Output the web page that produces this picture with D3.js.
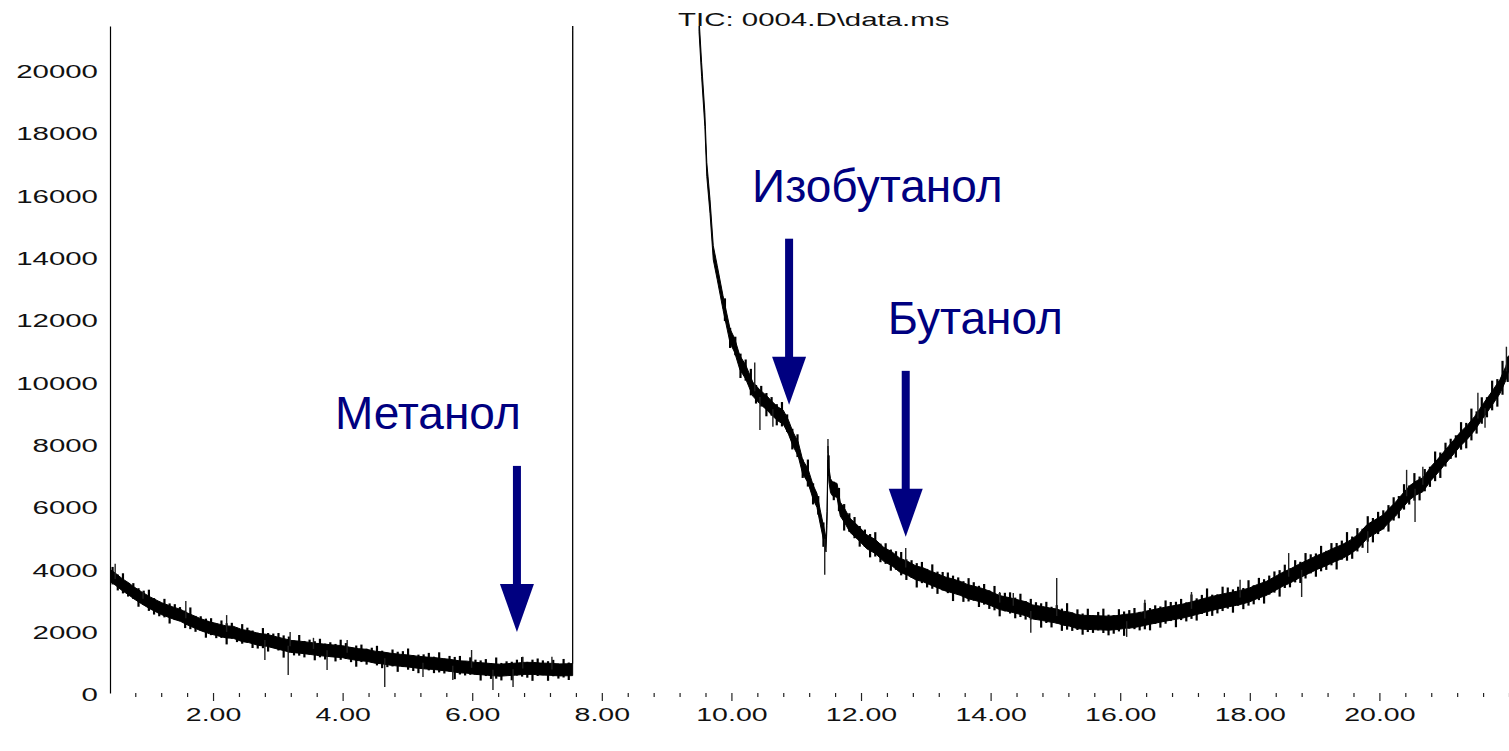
<!DOCTYPE html>
<html>
<head>
<meta charset="utf-8">
<script src="https://cdn.jsdelivr.net/npm/d3@7"></script>
<style>
  body { margin: 0; background: #fff; }
  svg { display: block; }
  .lbl { font-family: "Liberation Sans", Arial, sans-serif; font-size: 19px; fill: #111; }
  .anno { font-family: "Liberation Sans", Arial, sans-serif; font-size: 46px; fill: #000080; }
</style>
</head>
<body>
<div id="chart"></div>
<script>
// tick labels
var yTicks      = [0, 2000, 4000, 6000, 8000, 10000, 12000, 14000, 16000, 18000, 20000];
var xMajorTicks = [2, 4, 6, 8, 10, 12, 14, 16, 18, 20];
var titleText   = "TIC: 0004.D\\data.ms";

// first part of the trace (before the solvent delay), middle of the noisy signal
var tic1Time  = [0.41, 0.50, 0.60, 0.70, 0.77, 0.90, 1.03, 1.20, 1.38, 1.50, 1.60, 1.80, 1.95, 2.05, 2.20, 2.31, 2.45, 2.55, 2.70, 2.83,
                 3.00, 3.10, 3.20, 3.34, 3.50, 3.60, 3.85, 4.00, 4.10, 4.25, 4.37, 4.50, 4.60, 4.75, 4.89, 5.00, 5.15, 5.30, 5.40, 5.55,
                 5.65, 5.80, 5.92, 6.05, 6.20, 6.30, 6.43, 6.55, 6.70, 6.80, 6.94, 7.05, 7.20, 7.35, 7.46, 7.55, 7.551];
var tic1Value = [3775, 3640, 3475, 3340, 3225, 3050, 2890, 2710, 2570, 2490, 2380, 2200, 2090, 2040, 1960, 1950, 1840, 1810, 1720, 1690,
                 1600, 1550, 1495, 1470, 1430, 1400, 1350, 1325, 1280, 1230, 1210, 1150, 1130, 1080, 1050, 1030, 990, 960, 950, 910,
                 890, 840, 830, 790, 770, 750, 730, 750, 770, 790, 790, 770, 760, 740, 745, 750, 21450];

// second part of the trace
var tic2Time  = [9.50, 9.54, 9.59, 9.62, 9.67, 9.72, 9.78, 9.87, 9.98, 10.05, 10.13, 10.22, 10.33, 10.44, 10.55, 10.64, 10.72, 10.80, 10.88, 10.95,
                 11.03, 11.10, 11.18, 11.26, 11.32, 11.37, 11.42, 11.46, 11.475, 11.49, 11.505, 11.53, 11.56, 11.63, 11.68, 11.75, 11.83, 11.95, 12.09, 12.22,
                 12.35, 12.48, 12.60, 12.72, 12.85, 12.95, 13.06, 13.18, 13.30, 13.42, 13.53, 13.65, 13.75, 13.87, 13.99, 14.14, 14.30, 14.45, 14.55, 14.65,
                 14.80, 14.92, 15.02, 15.12, 15.22, 15.32, 15.42, 15.55, 15.69, 15.82, 15.95, 16.08, 16.20, 16.33, 16.46, 16.58, 16.70, 16.83, 16.97, 17.10,
                 17.23, 17.35, 17.45, 17.62, 17.80, 17.90, 18.00, 18.12, 18.25, 18.38, 18.51, 18.62, 18.75, 18.90, 19.04, 19.17, 19.30, 19.42, 19.55, 19.68,
                 19.81, 19.93, 20.05, 20.15, 20.25, 20.35, 20.47, 20.57, 20.67, 20.80, 20.90, 20.98, 21.06, 21.15, 21.25, 21.35, 21.47, 21.60, 21.72, 21.86,
                 21.95, 22.00];
var tic2Value = [21450, 20000, 18400, 16800, 15600, 14125, 13500, 12525, 11450, 11150, 10600, 10300, 9750, 9500, 9300, 9100, 8950, 8850, 8530, 8150,
                 7830, 7250, 6980, 6450, 6180, 5650, 5150, 4750, 5600, 7700, 7000, 6650, 6550, 6500, 5900, 5680, 5380, 5150, 4850, 4700,
                 4450, 4300, 4100, 4000, 3850, 3800, 3700, 3600, 3500, 3430, 3360, 3250, 3200, 3130, 3040, 2900, 2830, 2750, 2700, 2600,
                 2550, 2500, 2470, 2400, 2370, 2300, 2270, 2260, 2250, 2240, 2260, 2300, 2320, 2370, 2430, 2480, 2530, 2580, 2630, 2700,
                 2770, 2840, 2890, 2970, 3040, 3090, 3150, 3260, 3350, 3500, 3650, 3750, 3900, 4050, 4190, 4300, 4430, 4530, 4680, 4880,
                 5180, 5330, 5480, 5700, 5900, 6150, 6430, 6580, 6680, 7050, 7280, 7480, 7680, 7900, 8150, 8350, 8650, 9050, 9400, 9830,
                 10250, 10600];

// fine noise hairs, one every 0.08 min, as excursion from the trace
var hairStep    = 0.08;
var hair1Start  = 0.45;
var hair1Offset = [330, -300, 380, -260, 300, -350, 270, 400, -310, -280, 350, -380, 300, 260, -330, 410, -300, 270, -360, 320,
                   -280, 330, -400, 300, -270, 370, 280, -330, -300, 380, -350, 270, 330, -420, 300, -280, 390, -310, 280, -360,
                   350, -300, 270, -330, 380, 300, -280, -400, 330, -300, 280, 370, -330, -270, 320, -380, 300, 400, -300, -350,
                   270, 330, -310, 380, -280, 300, -420, 350, -270, 330, 280, -380, 320, -300, 400, -330, 270, -350, 300, 370,
                   -300, -400, 330, 280, -370, 310, -280, 350, -330];
var hair2Start  = 9.90;
var hair2Offset = [430, -380, 350, -460, 400, 500, -350, 390, -440, 350, -400, 460, 330, -390, 430, -350, 510, -400, 350,
                   -460, 390, -350, 440, -500, 350, 400, -390, 330, -440, 460, -350, 390, -400, 350, 440, -390, 330, -460,
                   400, -350, 460, -420, 350, 390, -480, 330, -390, 440, 350, -400, 390, -350, 460, -440, 350, 400, -390,
                   440, -350, 390, 330, -460, 400, -390, 350, -420, 500, -350, 390, -400, 440, -330, 350, 460, -390, -350,
                   420, -460, 350, 400, -350, 500, -420, 350, -400, 440, 360, -480, 400, -360, 460, -420, 360, 520, -400,
                   -360, 460, 400, -440, 360, -400, 480, -360, 420, -460, 360, 400, -500, 440, -360, 420, -400, 480, 360,
                   -440, 480, -360, 420, -500, 360, 540, -420, 440, -360, 480, -460, 420, 360, -500, 440, -420, 480, -360,
                   520, -450, 420, -380, 560, -480, 450, 380, -420, 520, -480, 600, -420, 500, -380, 560, -520, 640, -480];

// larger single spikes
var spikeTime  = [0.49, 0.92, 1.58, 2.21, 2.80, 3.16, 3.19, 3.55, 3.76, 4.07, 4.65, 5.24, 5.70, 5.99, 6.32, 6.63, 6.78, 7.23,
                  10.36, 10.44, 10.64, 11.44, 11.49, 12.69, 14.14, 14.35, 14.62, 15.02, 16.10, 16.38, 17.10, 17.85, 18.60, 18.80, 19.82,
                  20.42, 20.55, 20.67, 21.52, 21.63, 21.96];
var spikeValue = [4150, 3250, 2950, 2500, 1060, 580, 1960, 1770, 740, 1700, 190, 510, 420, 1380, 100, 190, 1160, 1160,
                  10600, 8440, 8540, 3790, 8150, 4650, 3240, 3210, 1930, 3690, 1800, 2990, 3240, 3630, 4490, 3080, 4490,
                  7160, 5490, 7260, 9630, 8510, 11110];

// peak annotations
var annoLabel    = ["Метанол", "Изобутанол", "Бутанол"];
var annoTime     = [6.69, 10.89, 12.69];
var annoTipValue = [1960, 9250, 5010];

var width  = 1509;
var height = 751;
var margin = {left: 110, right: 0, top: 26, bottom: 58};
var core   = [6, 7];     // half thickness of the dense noise core per segment, px

var svg = d3.select("#chart").append("svg").attr("width", width).attr("height", height);

var x = d3.scaleLinear().domain([0.41, 22.0]).range([margin.left, width - margin.right]);
var y = d3.scaleLinear().domain([0, 21400]).range([height - margin.bottom, margin.top]);

svg.append("clipPath").attr("id", "plot-clip").append("rect")
    .attr("x", margin.left).attr("y", margin.top)
    .attr("width", width - margin.left).attr("height", height - margin.bottom - margin.top + 8);

function zip(t, v) {
    return t.map(function(d, i){ return {t: d, v: v[i]}; });
}

var seg1 = zip(tic1Time, tic1Value);
var seg2 = zip(tic2Time, tic2Value);

var plot = svg.append("g").attr("clip-path", "url(#plot-clip)");

[seg1, seg2].forEach(function(seg, k){
    var band = d3.area().x(function(d){ return x(d.t); })
                        .y0(function(d){ return y(d.v) + core[k]; })
                        .y1(function(d){ return y(d.v) - core[k]; });
    plot.append("path").attr("d", band(seg))
        .attr("fill", "#000").attr("stroke", "#000").attr("stroke-width", 1).attr("stroke-linejoin", "round");
});

// trace value at time t (between the listed points)
function traceAt(t) {
    var seg = t < 8 ? seg1 : seg2;
    var i = d3.bisector(function(d){ return d.t; }).left(seg, t);
    i = Math.max(1, Math.min(seg.length - 1, i));
    var a = seg[i - 1], b = seg[i];
    return a.v + (t - a.t) / (b.t - a.t) * (b.v - a.v);
}

function drawHairs(start, offsets) {
    plot.append("g").selectAll("line").data(offsets).enter().append("line")
        .attr("x1", function(d, i){ return x(start + i * hairStep); })
        .attr("x2", function(d, i){ return x(start + i * hairStep); })
        .attr("y1", function(d, i){ return y(traceAt(start + i * hairStep) - d * 0.7); })
        .attr("y2", function(d, i){ return y(traceAt(start + i * hairStep) + d); })
        .attr("stroke", "#000").attr("stroke-width", 2.2);
}

drawHairs(hair1Start, hair1Offset);
drawHairs(hair2Start, hair2Offset);

plot.append("g").selectAll("line").data(spikeTime).enter().append("line")
    .attr("x1", function(d){ return x(d); })
    .attr("x2", function(d){ return x(d); })
    .attr("y1", function(d){ return y(traceAt(d)); })
    .attr("y2", function(d, i){ return y(spikeValue[i]); })
    .attr("stroke", "#222").attr("stroke-width", 1.4);

// y axis: line + labels only
var yAxis = d3.axisLeft(y).tickValues(yTicks).tickSize(0).tickSizeOuter(0).tickFormat(d3.format("d"));
var yG = svg.append("g").attr("transform", "translate(" + margin.left + ",0)").call(yAxis);
yG.select(".domain").attr("stroke", "#000").attr("stroke-width", 1.2);
yG.selectAll("text").attr("class", "lbl").attr("x", 0).attr("dy", "0.42em")
    .attr("text-anchor", "end").attr("font-size", null).attr("font-family", null)
    .attr("transform", "translate(-12,0) scale(1.55,1)");

// x axis: minor ticks every 0.4 min, major ticks with labels every 2 min
var xMinor = d3.range(2, 56).map(function(i){ return +(i * 0.4).toFixed(1); })
               .filter(function(d){ return xMajorTicks.indexOf(d) < 0; });

var xMinorG = svg.append("g").attr("transform", "translate(0," + (height - margin.bottom) + ")")
    .call(d3.axisBottom(x).tickValues(xMinor).tickSize(4).tickFormat(""));
xMinorG.select(".domain").remove();

var xMajorG = svg.append("g").attr("transform", "translate(0," + (height - margin.bottom) + ")")
    .call(d3.axisBottom(x).tickValues(xMajorTicks).tickSize(8).tickPadding(7).tickFormat(d3.format(".2f")));
xMajorG.select(".domain").remove();
xMajorG.selectAll("text").attr("class", "lbl").attr("font-size", null).attr("font-family", null)
    .attr("transform", "scale(1.5,1)");

svg.selectAll(".tick line").attr("stroke", "#222").attr("stroke-width", 1.2);

// title
svg.append("text").attr("class", "lbl").attr("transform", "translate(678,26) scale(1.55,1)").text(titleText);

// annotations
var annoDx = [-182, -37, -18];
annoLabel.forEach(function(label, i){
    var ax  = x(annoTime[i]);
    var tip = y(annoTipValue[i]);
    var g = svg.append("g").attr("fill", "#000080");
    g.append("rect").attr("x", ax - 4).attr("y", tip - 166).attr("width", 8).attr("height", 120);
    g.append("path").attr("d", "M" + (ax - 17) + "," + (tip - 48) + "L" + (ax + 17) + "," + (tip - 48) + "L" + ax + "," + tip + "Z");
    svg.append("text").attr("class", "anno").attr("x", ax + annoDx[i]).attr("y", tip - 203).text(label);
});
</script>
</body>
</html>
